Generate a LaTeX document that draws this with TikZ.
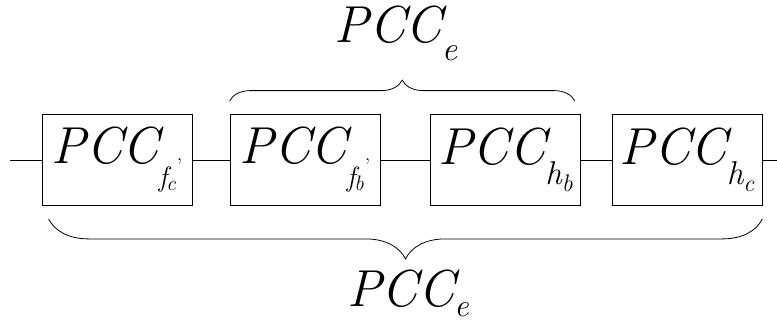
\documentclass[tikz,border=0pt]{standalone}
\usepackage{fontspec}
\usetikzlibrary{positioning, decorations.pathreplacing, calc}

%% big PCC and lowered subscripts
\newcommand{\bigpcc}{{\fontsize{52pt}{52pt}\selectfont\itshape PCC}}
\newcommand{\subtxt}[3]{\raisebox{-#1}{\fontsize{#2}{#2}\selectfont\itshape #3}}
\newcommand{\tick}{\kern1pt\raisebox{3pt}{\fontsize{22pt}{22pt}\selectfont ,}}

\begin{document}
\begin{tikzpicture}[x=1pt, y=-1pt,
  pccbox/.style={rectangle, draw, line width=0.8pt, minimum width=150pt,
                 minimum height=91pt, inner sep=0pt},
  lbl/.style={inner sep=0pt, anchor=base},
  wire/.style={draw, line width=0.8pt},
  brc/.style={draw, line width=0.8pt, decorate, decoration={brace, amplitude=#1}}
]
\useasboundingbox (0,0) rectangle (777,324);

%% boxes
\node[pccbox] (b1) at (117,160)   {\bigpcc\subtxt{23pt}{28pt}{f\kern-1pt\subtxt{4pt}{21pt}{c}}\tick};
\node[pccbox] (b2) at (305,160)   {\bigpcc\subtxt{23pt}{28pt}{f\kern-1pt\subtxt{4pt}{21pt}{b}}\tick};
\node[pccbox] (b3) at (505.5,160) {\bigpcc\subtxt{20pt}{33pt}{h\subtxt{7pt}{24pt}{b}}};
\node[pccbox] (b4) at (687,160)   {\bigpcc\subtxt{20pt}{33pt}{h\subtxt{7pt}{24pt}{c}}};

%% wire ends
\coordinate (lin)  at (10,160);
\coordinate (lout) at (777,160);

%% wires
\draw[wire] (lin) -- (b1);
\draw[wire] (b1) -- (b2);
\draw[wire] (b2) -- (b3);
\draw[wire] (b3) -- (b4);
\draw[wire] (b4) -- (lout);

%% braces
\draw[brc=21pt] ($(b2.north west)+(0,-13)$) -- ($(b3.north east)+(-6,-13)$);
\draw[brc=40pt] ($(b4.south east)+(0,13)$) -- ($(b1.south west)+(7,13)$);

%% brace labels
\node[lbl] (ptop) at (396,42)  {\bigpcc\subtxt{18pt}{34pt}{e}};
\node[lbl] (pbot) at (408,306) {\bigpcc\subtxt{10pt}{32pt}{e}};

\end{tikzpicture}
\end{document}
